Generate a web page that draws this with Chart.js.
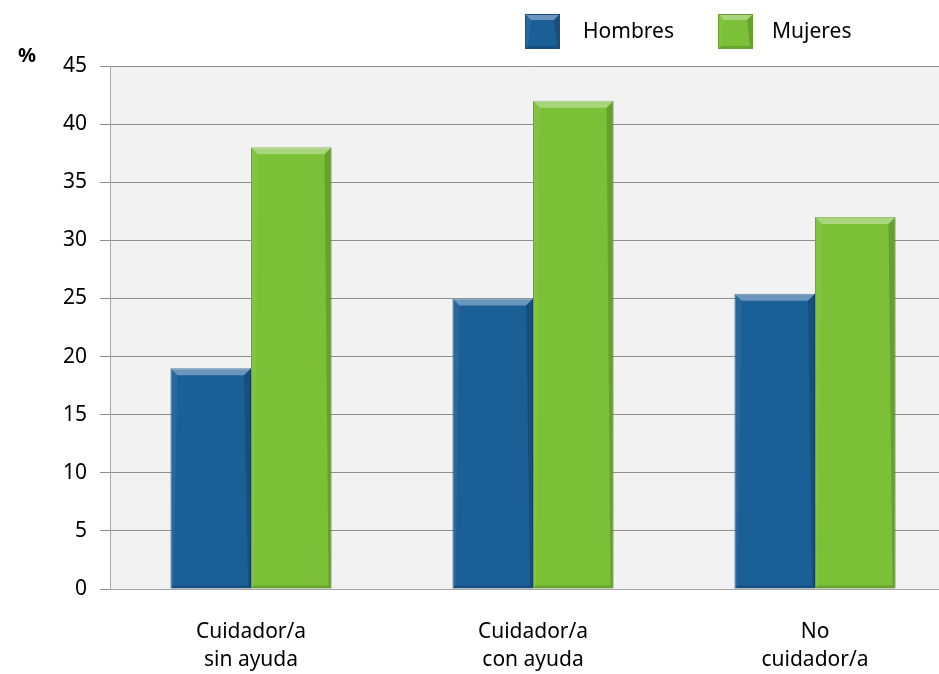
<!DOCTYPE html>
<html>
<head>
<meta charset="utf-8">
<script src="https://cdn.jsdelivr.net/npm/chart.js@4.4.0/dist/chart.umd.min.js"></script>
<style>
  html, body { margin: 0; padding: 0; background: #fff; overflow: hidden; }
  #wrap { width: 939px; height: 674px; overflow: hidden; }
</style>
</head>
<body>
<div id="wrap"><canvas id="mycanvas1" width="960" height="674"></canvas></div>
<script>
// chart values
var categories = [["Cuidador/a", "sin ayuda"], ["Cuidador/a", "con ayuda"], ["No", "cuidador/a"]];
var seriesNames = ["Hombres", "Mujeres"];
var hombres = [19, 25, 25.4];
var mujeres = [38, 42, 32];
var yMax = 45;
var yStep = 5;

var FONT = "'Noto Sans', sans-serif";

function bevel(ctx, x0, y0, x1, y1, top, side) {
  // light top, dark bottom/right, like the office bevel look
  ctx.save();
  ctx.fillStyle = "rgba(255,255,255,0.35)";
  ctx.beginPath();
  ctx.moveTo(x0, y0); ctx.lineTo(x1, y0); ctx.lineTo(x1 - top, y0 + top); ctx.lineTo(x0 + top, y0 + top);
  ctx.closePath(); ctx.fill();
  ctx.fillStyle = "rgba(255,255,255,0.06)";
  ctx.beginPath();
  ctx.moveTo(x0, y0); ctx.lineTo(x0 + top, y0 + top); ctx.lineTo(x0 + side, y1 - side); ctx.lineTo(x0, y1);
  ctx.closePath(); ctx.fill();
  ctx.fillStyle = "rgba(0,0,0,0.16)";
  ctx.beginPath();
  ctx.moveTo(x1, y0); ctx.lineTo(x1 - top, y0 + top); ctx.lineTo(x1 - side, y1 - side); ctx.lineTo(x1, y1);
  ctx.closePath(); ctx.fill();
  ctx.fillStyle = "rgba(0,0,0,0.15)";
  ctx.beginPath();
  ctx.moveTo(x0, y1); ctx.lineTo(x0 + side, y1 - side); ctx.lineTo(x1 - side, y1 - side); ctx.lineTo(x1, y1);
  ctx.closePath(); ctx.fill();
  ctx.restore();
}

var extras = {
  id: "extras",
  beforeDraw: function(chart) {
    var a = chart.chartArea, ctx = chart.ctx;
    ctx.save();
    ctx.fillStyle = "#f2f2f2";
    ctx.fillRect(a.left, a.top, a.right - a.left, a.bottom - a.top);
    ctx.restore();
  },
  afterDatasetsDraw: function(chart) {
    var ctx = chart.ctx;
    chart.data.datasets.forEach(function(ds, i) {
      chart.getDatasetMeta(i).data.forEach(function(el) {
        var p = el.getProps(["x", "y", "base", "width"], true);
        bevel(ctx, p.x - p.width / 2, p.y, p.x + p.width / 2, p.base, 7, 3);
      });
    });
  },
  afterDraw: function(chart) {
    var ctx = chart.ctx;
    ctx.save();
    // % label
    ctx.fillStyle = "#000";
    ctx.font = "bold 20px " + FONT;
    ctx.textAlign = "center";
    ctx.textBaseline = "middle";
    ctx.fillText("%", 27, 56);
    // legend
    var items = [[525, 583], [718, 772]];
    ctx.font = "21px " + FONT;
    ctx.textAlign = "left";
    chart.data.datasets.forEach(function(ds, i) {
      var bx = items[i][0], by = 14;
      ctx.fillStyle = ds.backgroundColor;
      ctx.fillRect(bx, by, 35, 35);
      bevel(ctx, bx, by, bx + 35, by + 35, 6, 3);
      ctx.strokeStyle = ds.borderColor;
      ctx.lineWidth = 1;
      ctx.strokeRect(bx + 0.5, by + 0.5, 34, 34);
      ctx.fillStyle = "#000";
      ctx.fillText(ds.label, items[i][1], 32);
    });
    ctx.restore();
  }
};

var chartdata = {
  labels: categories,
  datasets: [
    {
      label: seriesNames[0],
      data: hombres,
      backgroundColor: "#1b5f97",
      borderColor: "#174f7d",
      borderWidth: 1,
      categoryPercentage: 0.571,
      barPercentage: 1
    },
    {
      label: seriesNames[1],
      data: mujeres,
      backgroundColor: "#7bc036",
      borderColor: "#67a02c",
      borderWidth: 1,
      categoryPercentage: 0.571,
      barPercentage: 1
    }
  ]
};

var ctx = document.getElementById("mycanvas1");
var barGraph = new Chart(ctx, {
  type: "bar",
  data: chartdata,
  plugins: [extras],
  options: {
    responsive: false,
    animation: false,
    layout: { padding: { top: 66, right: 4, bottom: 0, left: 0 } },
    plugins: {
      legend: { display: false },
      tooltip: { enabled: false }
    },
    scales: {
      x: {
        afterFit: function(scale) { scale.height = 85; },
        grid: { display: false, drawTicks: false },
        border: { display: true, color: "#a6a6a6", width: 1 },
        ticks: { color: "#000", font: { family: FONT, size: 21, lineHeight: 1.333 }, padding: 29, maxRotation: 0 }
      },
      y: {
        min: 0,
        max: yMax,
        afterFit: function(scale) { scale.width = 110; },
        grid: { color: "#8f8f8f", lineWidth: 1, tickLength: 10, drawTicks: true },
        border: { display: true, color: "#a6a6a6", width: 1 },
        ticks: { stepSize: yStep, color: "#000", font: { family: FONT, size: 21 }, padding: 13 }
      }
    }
  }
});
</script>
</body>
</html>
